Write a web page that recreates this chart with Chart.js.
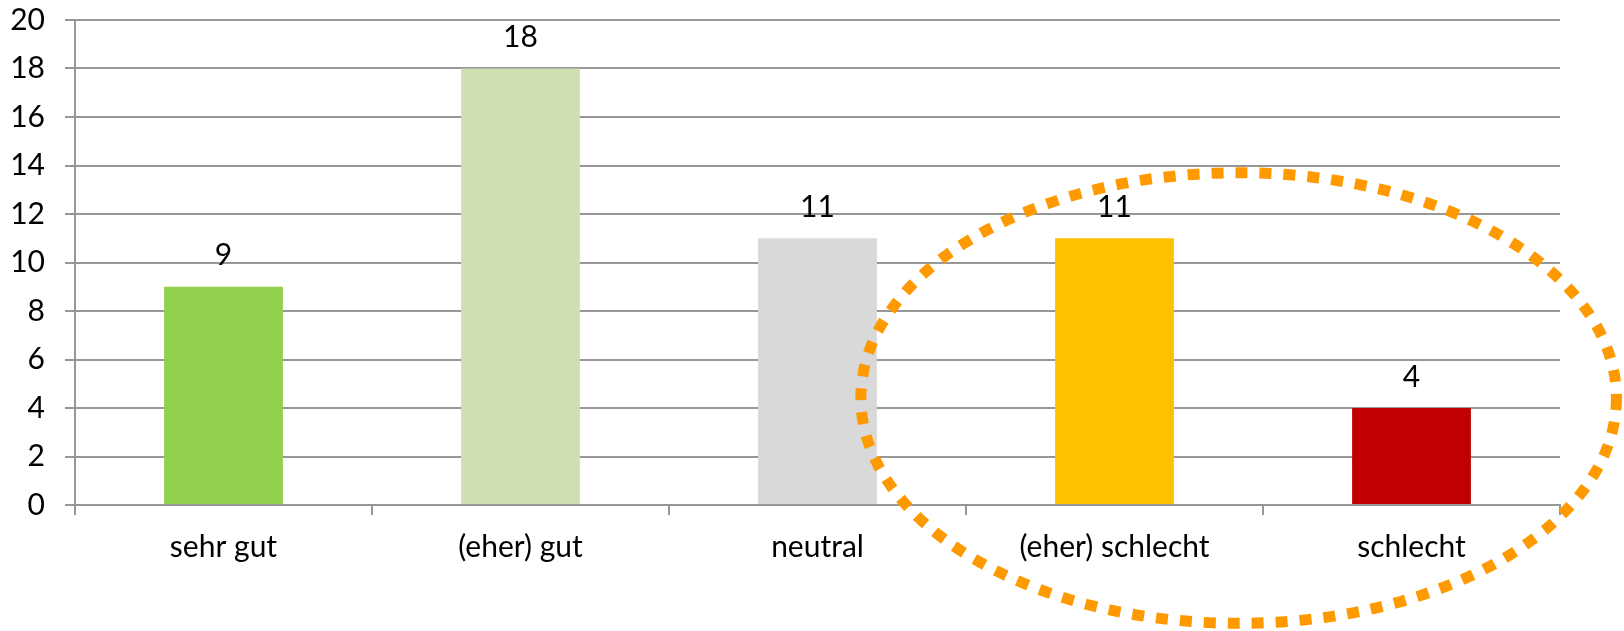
<!DOCTYPE html>
<html>
<head>
<meta charset="utf-8">
<title>Bewertung</title>
<script src="https://cdn.jsdelivr.net/npm/chart.js@4.4.1/dist/chart.umd.min.js"></script>
<style>
  html, body { margin: 0; padding: 0; background: #fff; }
  #wrap { width: 1624px; height: 631px; }
</style>
</head>
<body>
<div id="wrap"><canvas id="canvas-1" width="1624" height="631"></canvas></div>
<script>
var categories = ['sehr gut', '(eher) gut', 'neutral', '(eher) schlecht', 'schlecht'];
var counts = [9, 18, 11, 11, 4];
var barColors = ['#92D050', '#D0DFB1', '#D9D9D9', '#FFC000', '#C00000'];
var yTicks = [0, 2, 4, 6, 8, 10, 12, 14, 16, 18, 20];

var FONT = 'Lato, "Open Sans", sans-serif';
var FONT_SIZE = 30;

// numbers above each bar
var valueLabels = {
    id: 'valueLabels',
    afterDatasetsDraw: function (chart) {
        var ctx = chart.ctx;
        var meta = chart.getDatasetMeta(0);
        ctx.save();
        ctx.font = FONT_SIZE + 'px ' + FONT;
        ctx.fillStyle = '#000';
        ctx.textAlign = 'center';
        ctx.textBaseline = 'middle';
        meta.data.forEach(function (bar, i) {
            ctx.fillText(String(counts[i]), bar.x, bar.y - 31);
        });
        ctx.restore();
    }
};

// dotted ring around the two negative categories
var ring = {
    id: 'ring',
    afterDraw: function (chart) {
        var x = chart.scales.x, y = chart.scales.y;
        var step = x.getPixelForValue(1) - x.getPixelForValue(0);
        var cx = x.getPixelForValue(3) + step * 0.418;
        var cy = y.getPixelForValue(4.41);
        var rx = step * 1.272;
        var ry = y.getPixelForValue(0) - y.getPixelForValue(9.29);
        var ctx = chart.ctx;
        ctx.save();
        ctx.strokeStyle = '#FF9900';
        ctx.lineWidth = 11;
        ctx.lineCap = 'butt';
        ctx.setLineDash([12, 12]);
        ctx.beginPath();
        ctx.ellipse(cx, cy, rx, ry, 0, 0, Math.PI * 2);
        ctx.stroke();
        ctx.restore();
    }
};

var barData = {
    labels: categories,
    datasets: [{
        data: counts,
        backgroundColor: barColors,
        hoverBackgroundColor: barColors,
        borderWidth: 0,
        barPercentage: 0.4,
        categoryPercentage: 1
    }]
};

var options = {
    responsive: false,
    animation: false,
    layout: {
        padding: { top: 20, right: 64, bottom: 52, left: 0 }
    },
    plugins: {
        legend: { display: false },
        tooltip: { enabled: false }
    },
    scales: {
        x: {
            grid: {
                display: true,
                drawOnChartArea: false,
                offset: true,
                tickLength: 10,
                color: '#979797',
                lineWidth: 2
            },
            border: { display: true, color: '#979797', width: 2 },
            ticks: {
                color: '#000',
                padding: 14,
                font: { family: FONT, size: FONT_SIZE }
            }
        },
        y: {
            min: 0,
            max: 20,
            afterBuildTicks: function (scale) {
                scale.ticks = yTicks.map(function (v) { return { value: v }; });
            },
            afterFit: function (scale) {
                scale.width = 75;
                scale.paddingTop = 0;
                scale.paddingBottom = 0;
            },
            grid: {
                color: '#979797',
                lineWidth: 2,
                tickLength: 10
            },
            border: { display: true, color: '#979797', width: 2 },
            ticks: {
                color: '#000',
                padding: 20,
                font: { family: FONT, size: FONT_SIZE }
            }
        }
    }
};

var ctx = document.getElementById('canvas-1');
var chart = new Chart(ctx, {
    type: 'bar',
    data: barData,
    options: options,
    plugins: [valueLabels, ring]
});
</script>
</body>
</html>
